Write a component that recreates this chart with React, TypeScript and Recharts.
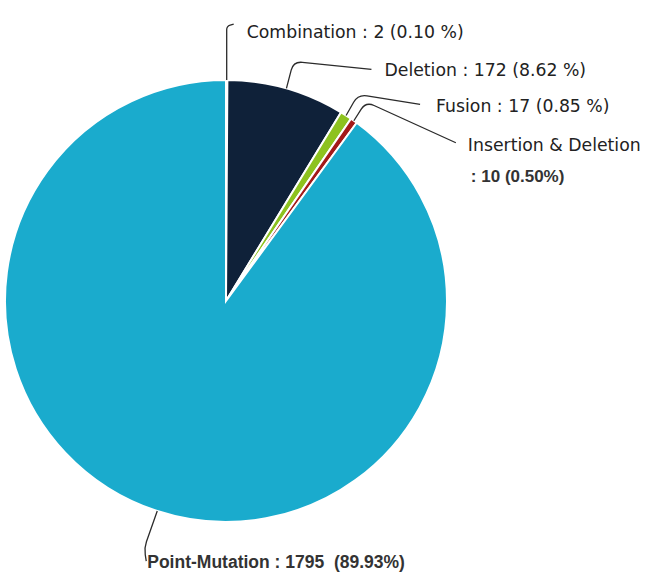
import React from "react";
import { Pie, PieChart, Cell } from "recharts";

// mutation types, clockwise from 12 o'clock
const CATEGORIES = ["Combination", "Deletion", "Fusion", "Insertion & Deletion", "Point-Mutation"];
const COUNTS = [2, 172, 17, 10, 1795];
const LABEL_LINES = [
  ["Combination : 2 (0.10 %)"],
  ["Deletion : 172 (8.62 %)"],
  ["Fusion : 17 (0.85 %)"],
  ["Insertion & Deletion", ": 10 (0.50%)"],
  ["Point-Mutation : 1795  (89.93%)"],
];

const COLORS = ["#0f2139", "#0f2139", "#8dc21f", "#a31919", "#1aabcd"];

// leader geometry relative to the slice's outer edge point
type Layout = { elbow: [number, number]; end: [number, number]; text: [number, number][]; bold?: number[] };
const LAYOUT: Record<string, Layout> = {
  Combination: { elbow: [0, -54], end: [7, -56], text: [[20, -48]] },
  Deletion: { elbow: [7, -27], end: [85, -19], text: [[98, -18]] },
  Fusion: { elbow: [12, -21], end: [74, -11], text: [[90, -9]] },
  "Insertion & Deletion": { elbow: [12, -19], end: [102, 22], text: [[114, 24], [117, 56]], bold: [0, 17] },
  "Point-Mutation": { elbow: [-13, 37], end: [-11, 50], text: [[-10, 51]], bold: [17.5] },
};

const data = CATEGORIES.map((name, i) => ({ name, value: COUNTS[i] }));

if (typeof document !== "undefined") document.body.style.margin = "0";

const RAD = Math.PI / 180;

function leaderPath(a: [number, number], e: [number, number], b: [number, number]) {
  const unit = (p: [number, number], q: [number, number]) => {
    const dx = q[0] - p[0];
    const dy = q[1] - p[1];
    const len = Math.hypot(dx, dy) || 1;
    return { ux: dx / len, uy: dy / len, len };
  };
  const u1 = unit(a, e);
  const u2 = unit(e, b);
  const r = Math.min(9, u1.len / 2, u2.len / 2);
  const p1 = [e[0] - u1.ux * r, e[1] - u1.uy * r];
  const p2 = [e[0] + u2.ux * r, e[1] + u2.uy * r];
  return `M${a[0]},${a[1]} L${p1[0]},${p1[1]} Q${e[0]},${e[1]} ${p2[0]},${p2[1]} L${b[0]},${b[1]}`;
}

function renderLabel(props: any) {
  const { cx, cy, midAngle, outerRadius, index } = props;
  const name = CATEGORIES[index];
  const lay = LAYOUT[name];
  const ax = cx + outerRadius * Math.cos(-midAngle * RAD);
  const ay = cy + outerRadius * Math.sin(-midAngle * RAD);
  const a: [number, number] = [ax, ay];
  const e: [number, number] = [ax + lay.elbow[0], ay + lay.elbow[1]];
  const b: [number, number] = [ax + lay.end[0], ay + lay.end[1]];
  return (
    <g key={`lbl-${index}`}>
      <path d={leaderPath(a, e, b)} stroke="#2b2b2b" strokeWidth={1.3} fill="none" />
      {LABEL_LINES[index].map((t, j) => {
        const boldSize = lay.bold?.[j] || 0;
        const bold = boldSize > 0;
        return (
          <text
            key={j}
            x={ax + lay.text[j][0]}
            y={ay + lay.text[j][1]}
            dominantBaseline="central"
            textAnchor="start"
            fill={bold ? "#333" : "#222"}
            fontSize={bold ? boldSize : 17.3}
            fontWeight={bold ? 700 : 400}
            fontFamily={bold ? "Liberation Sans, Arial, sans-serif" : "DejaVu Sans, Verdana, sans-serif"}
            style={{ whiteSpace: "pre" }}
          >
            {t}
          </text>
        );
      })}
    </g>
  );
}

export default function App() {
  return (
    <div style={{ width: 650, height: 575, background: "#fff" }}>
      <PieChart width={650} height={575} margin={{ top: 0, right: 0, bottom: 0, left: 0 }}>
        <Pie
          data={data}
          dataKey="value"
          nameKey="name"
          cx={226}
          cy={301}
          outerRadius={221}
          startAngle={90}
          endAngle={-270}
          stroke="#ffffff"
          strokeWidth={2}
          label={renderLabel}
          labelLine={false}
          isAnimationActive={false}
        >
          {data.map((_, i) => (
            <Cell key={i} fill={COLORS[i]} />
          ))}
        </Pie>
      </PieChart>
    </div>
  );
}
